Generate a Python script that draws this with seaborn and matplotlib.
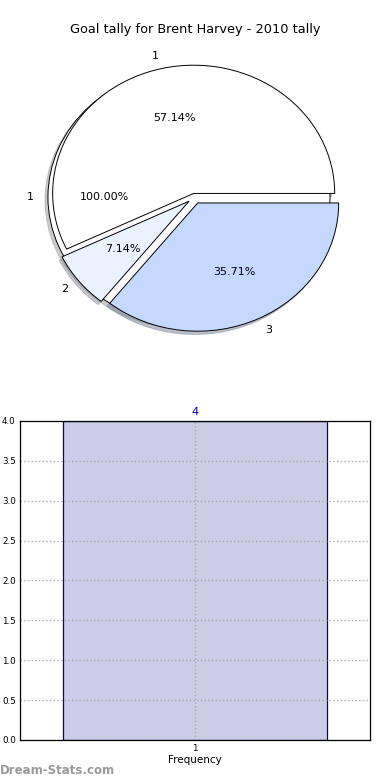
import matplotlib
matplotlib.use("Agg")
import matplotlib.pyplot as plt
import seaborn as sns
import pandas as pd

# data
title = "Goal tally for Brent Harvey - 2010 tally"
back_values = [1]
back_labels = ["1"]
pie_values = [8, 1, 5]
pie_labels = ["1", "2", "3"]
pie_colors = ["#ffffff", "#eaf1ff", "#c5d9ff"]
bar_cats = ["1"]
bar_counts = [4]

sns.set_style("white")
plt.rcParams["font.family"] = ["DejaVu Sans"]
plt.rcParams["text.color"] = "black"
plt.rcParams["xtick.color"] = "black"
plt.rcParams["ytick.color"] = "black"
plt.rcParams["axes.labelcolor"] = "black"

fig = plt.figure(figsize=(3.9, 7.8), dpi=100)

# --- pie (drawn twice, like the original) ---
shadow = dict(ox=-0.015, oy=-0.018, shade=0.4)
ax1 = fig.add_axes([0.047, 0.5417, 0.904, 0.411])
ax1.pie(back_values, labels=back_labels, colors=["#ffffff"], explode=[0.04],
        autopct="%.2f%%", shadow=shadow,
        wedgeprops=dict(edgecolor="black", linewidth=0.7),
        textprops=dict(fontsize=8, color="black"))
ax1.pie(pie_values, labels=pie_labels, colors=pie_colors,
        explode=[0.03, 0.05, 0.05], autopct="%.2f%%", shadow=shadow,
        wedgeprops=dict(edgecolor="black", linewidth=0.7),
        textprops=dict(fontsize=8, color="black"))
ax1.set_aspect("auto")
ax1.set_xlim(-1.25, 1.25)
ax1.set_ylim(-1.25, 1.25)
fig.text(0.5, 1 - 30 / 780, title, ha="center", va="center", fontsize=9.3)

# --- frequency bar ---
ax2 = fig.add_axes([0.0513, 0.0513, 0.897, 0.409])
df = pd.DataFrame({"cat": bar_cats, "count": bar_counts})
sns.barplot(data=df, x="cat", y="count", ax=ax2, width=0.755,
            color="#ccccE6", saturation=1, edgecolor="#0000a0", linewidth=0.9)
ax2.set_xlim(-0.5, 0.5)
ax2.set_ylim(0, 4.0)
ax2.set_yticks([0, 0.5, 1.0, 1.5, 2.0, 2.5, 3.0, 3.5, 4.0])
ax2.set_yticklabels([f"{v:.1f}" for v in ax2.get_yticks()])
ax2.grid(True, linestyle=":", color="#aaaaaa", linewidth=1.0)
ax2.set_axisbelow(False)
for b in ax2.patches:
    b.set_zorder(0.5)
ax2.tick_params(axis="both", labelsize=6.3, length=2, color="#999999", pad=1)
ax2.set_xlabel("Frequency", fontsize=7.5, labelpad=1)
ax2.set_ylabel("")
for s in ax2.spines.values():
    s.set_color("black")
    s.set_linewidth(0.9)
    s.set_zorder(4)
for i, c in enumerate(bar_counts):
    ax2.text(i, c + 0.05, str(c), ha="center", va="bottom", color="#0000aa", fontsize=8)

fig.text(0.0, 1 - 771 / 780, "Dream-Stats.com", ha="left", va="center",
         fontsize=8.5, color="#999999", fontweight="semibold")

fig.savefig("out.png", dpi=100)
